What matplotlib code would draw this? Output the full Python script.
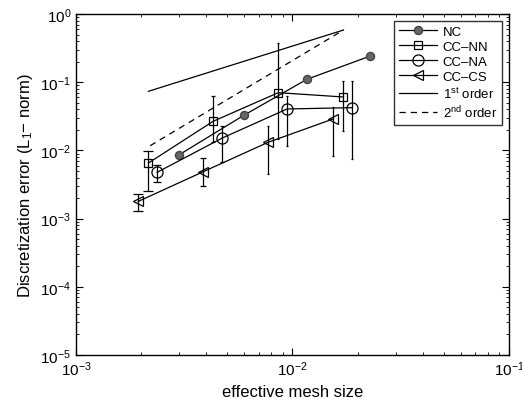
import numpy as np
import matplotlib.pyplot as plt

plt.rcParams['font.family'] = ['Liberation Sans', 'DejaVu Sans']
plt.rcParams['mathtext.default'] = 'regular'

# NC (no error bars)
nc_x = [0.0030, 0.00596, 0.01164, 0.0227]
nc_y = [0.00865, 0.0327, 0.110, 0.240]

# CC-NN
nn_x = [0.00216, 0.0043, 0.0086, 0.0172]
nn_y = [0.00653, 0.0267, 0.0702, 0.0607]
nn_lo = [0.00257, 0.0134, 0.0147, 0.0195]
nn_hi = [0.0099, 0.0634, 0.37, 0.105]

# CC-NA
na_x = [0.00237, 0.00474, 0.00944, 0.01874]
na_y = [0.00477, 0.0152, 0.0405, 0.0423]
na_lo = [0.00348, 0.0067, 0.0117, 0.0075]
na_hi = [0.0062, 0.023, 0.063, 0.105]

# CC-CS
cs_x = [0.00194, 0.00387, 0.00772, 0.0154]
cs_y = [0.00179, 0.00487, 0.01315, 0.0289]
cs_lo = [0.00128, 0.00304, 0.0045, 0.00836]
cs_hi = [0.0023, 0.00766, 0.023, 0.0428]

# reference slopes
o1_x = [0.00216, 0.0172]
o1_y = [0.0735, 0.582]
o2_x = [0.0022, 0.0172]
o2_y = [0.0117, 0.582]

fig = plt.figure(figsize=(5.22, 4.02), dpi=100)
ax = fig.add_axes([0.1456, 0.1144, 0.8294, 0.8483])

lw = 0.9


def errbars(x, y, lo, hi):
    for xi, yi, l, h in zip(x, y, lo, hi):
        cs = 3.6 * 0.002 / xi
        ax.errorbar([xi], [yi], yerr=[[yi - l], [h - yi]], fmt='none',
                    ecolor='black', elinewidth=lw, capsize=cs, capthick=lw)


errbars(nn_x, nn_y, nn_lo, nn_hi)
errbars(na_x, na_y, na_lo, na_hi)
errbars(cs_x, cs_y, cs_lo, cs_hi)

ax.plot(nc_x, nc_y, '-o', color='black', lw=lw, mfc='#666666', mec='#444444',
        ms=5.8, label='NC')
ax.plot(nn_x, nn_y, '-s', color='black', lw=lw, mfc='none', ms=6.2, mew=lw,
        label='CC\u2013NN')
ax.plot(na_x, na_y, '-o', color='black', lw=lw, mfc='none', ms=8, mew=lw,
        label='CC\u2013NA')
ax.plot(cs_x, cs_y, '-<', color='black', lw=lw, mfc='none', ms=7.5, mew=lw,
        label='CC\u2013CS')
ax.plot(o1_x, o1_y, '-', color='black', lw=lw, label='1$^{st}$ order')
ax.plot(o2_x, o2_y, '--', color='black', lw=lw, dashes=(5, 4),
        label='2$^{nd}$ order')

ax.set_xscale('log')
ax.set_yscale('log')
ax.set_xlim(1e-3, 1e-1)
ax.set_ylim(1e-5, 1e0)
ax.tick_params(which='both', direction='in', top=True, right=True, labelsize=11)
ax.tick_params(which='major', length=5)
ax.tick_params(which='minor', length=2.5)
for s in ax.spines.values():
    s.set_linewidth(1.0)

ax.set_xlabel('effective mesh size', fontsize=12)
ax.set_ylabel('Discretization error (L$_1$\u2212 norm)', fontsize=12)

leg = ax.legend(loc='upper right', fontsize=9.5, frameon=True, fancybox=False,
                edgecolor='black', handlelength=2.9, borderaxespad=0.5,
                labelspacing=0.2, handletextpad=0.4)
leg.get_frame().set_linewidth(1.0)

fig.savefig('out.png', dpi=100)
